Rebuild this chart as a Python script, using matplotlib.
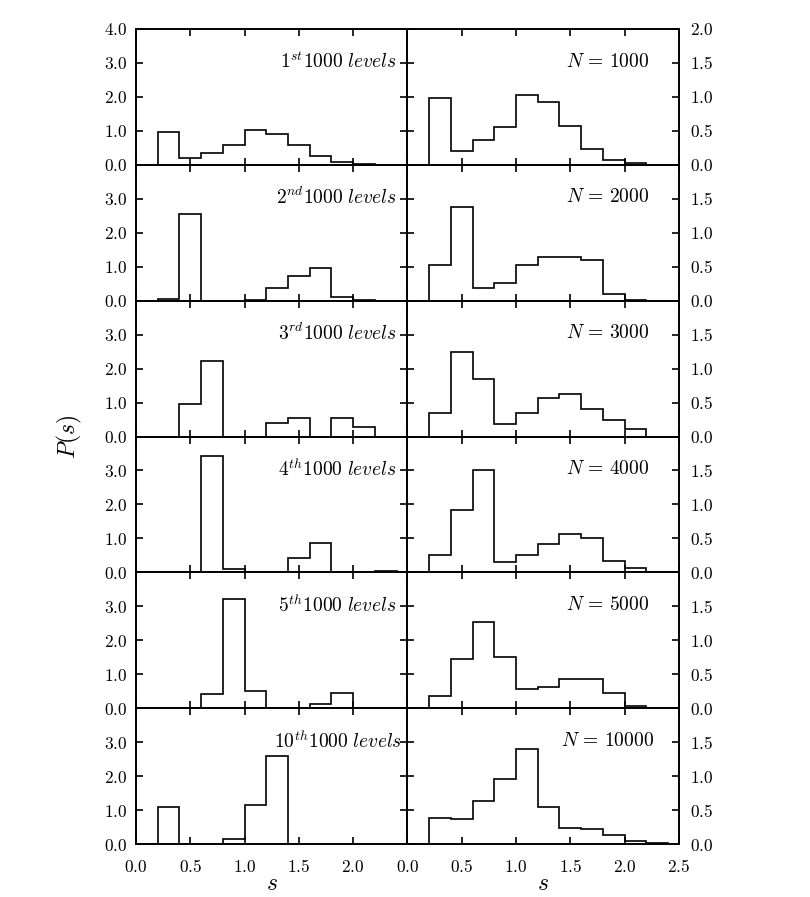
import matplotlib

matplotlib.use("Agg")
import matplotlib.pyplot as plt

plt.rcParams["mathtext.fontset"] = "cm"
plt.rcParams["font.family"] = ["DejaVu Serif"]

# bin edges of the level-spacing histograms
s_edges = [0.0, 0.2, 0.4, 0.6, 0.8, 1.0, 1.2, 1.4, 1.6, 1.8, 2.0, 2.2, 2.4]

# left column: successive blocks of 1000 levels
p_1st = [0, 0.98, 0.20, 0.36, 0.57, 1.04, 0.92, 0.57, 0.25, 0.07, 0.03, 0]
p_2nd = [0, 0.04, 2.55, 0, 0, 0.03, 0.37, 0.72, 0.95, 0.12, 0.02, 0]
p_3rd = [0, 0, 0.97, 2.21, 0, 0, 0.39, 0.55, 0, 0.54, 0.29, 0]
p_4th = [0, 0, 0, 3.43, 0.10, 0, 0, 0.41, 0.86, 0, 0, 0.03]
p_5th = [0, 0, 0, 0.41, 3.22, 0.51, 0, 0, 0.12, 0.45, 0, 0]
p_10th = [0, 1.08, 0, 0, 0.15, 1.16, 2.58, 0, 0, 0, 0, 0]
left_labels = [
    r"$1^{st}\mathrm{1000}\ levels$",
    r"$2^{nd}\mathrm{1000}\ levels$",
    r"$3^{rd}\mathrm{1000}\ levels$",
    r"$4^{th}\mathrm{1000}\ levels$",
    r"$5^{th}\mathrm{1000}\ levels$",
    r"$10^{th}\mathrm{1000}\ levels$",
]

# right column: first N levels
p_n1000 = [0, 0.99, 0.20, 0.36, 0.56, 1.03, 0.92, 0.57, 0.24, 0.07, 0.02, 0]
p_n2000 = [0, 0.52, 1.38, 0.18, 0.26, 0.53, 0.65, 0.65, 0.60, 0.10, 0.01, 0]
p_n3000 = [0, 0.34, 1.25, 0.85, 0.18, 0.35, 0.57, 0.62, 0.41, 0.25, 0.11, 0]
p_n4000 = [0, 0.25, 0.92, 1.50, 0.15, 0.25, 0.42, 0.56, 0.51, 0.17, 0.06, 0.01]
p_n5000 = [0, 0.18, 0.72, 1.27, 0.76, 0.29, 0.31, 0.43, 0.43, 0.22, 0.04, 0.01]
p_n10000 = [0, 0.38, 0.37, 0.64, 0.96, 1.40, 0.55, 0.24, 0.22, 0.13, 0.04, 0.02]
right_labels = [r"$N\,=\,1000$", r"$N\,=\,2000$", r"$N\,=\,3000$",
                r"$N\,=\,4000$", r"$N\,=\,5000$", r"$N\,=\,10000$"]

left_data = [p_1st, p_2nd, p_3rd, p_4th, p_5th, p_10th]
right_data = [p_n1000, p_n2000, p_n3000, p_n4000, p_n5000, p_n10000]

x_ticks = [0.0, 0.5, 1.0, 1.5, 2.0, 2.5]
left_yticks = [0.0, 1.0, 2.0, 3.0, 4.0]
right_yticks = [0.0, 0.5, 1.0, 1.5, 2.0]


def fmt(v):
    return rf"${v:.1f}$"


fig = plt.figure(figsize=(8.1, 8.97), dpi=100)
gs = fig.add_gridspec(6, 2, left=0.168, right=0.838, top=0.9677, bottom=0.059,
                      hspace=0, wspace=0)

n_rows = len(left_data)
for row in range(n_rows):
    for col in range(2):
        ax = fig.add_subplot(gs[row, col])
        if col == 0:
            vals, label, yt, ymax = left_data[row], left_labels[row], left_yticks, 4.0
        else:
            vals, label, yt, ymax = right_data[row], right_labels[row], right_yticks, 2.0
        ax.stairs(vals, s_edges, color="black", linewidth=1.2, baseline=0)
        ax.set_xlim(0, 2.5)
        ax.set_ylim(0, ymax)
        for sp in ax.spines.values():
            sp.set_linewidth(1.4)

        shown = yt if row == 0 else yt[:-1]
        ax.set_yticks(yt)
        ax.set_yticklabels([fmt(v) if v in shown else "" for v in yt])
        ax.set_xticks(x_ticks)
        if row == n_rows - 1:
            xl = x_ticks if col == 1 else x_ticks[:-1]
            ax.set_xticklabels([fmt(v) if v in xl else "" for v in x_ticks])
        else:
            ax.set_xticklabels([])

        ax.tick_params(direction="in", length=5, width=1.2, top=True, right=True,
                       labelsize=12.5, pad=6)
        if col == 1:
            ax.tick_params(axis="y", labelleft=False, labelright=True, pad=8)
        ax.tick_params(axis="x", pad=11)

        tx = 0.96 if col == 0 else 0.89
        if label.startswith(r"$10^") or label.endswith("10000$"):
            tx += 0.02
        ax.text(tx, 0.76, label, transform=ax.transAxes, ha="right", va="center",
                fontsize=14)

fig.text(0.086, 0.513, r"$P(s)$", rotation=90, ha="center", va="center", fontsize=17)
fig.text(0.336, 0.002, r"$s$", ha="center", va="bottom", fontsize=17)
fig.text(0.670, 0.002, r"$s$", ha="center", va="bottom", fontsize=17)

fig.savefig("out.png", dpi=100)
